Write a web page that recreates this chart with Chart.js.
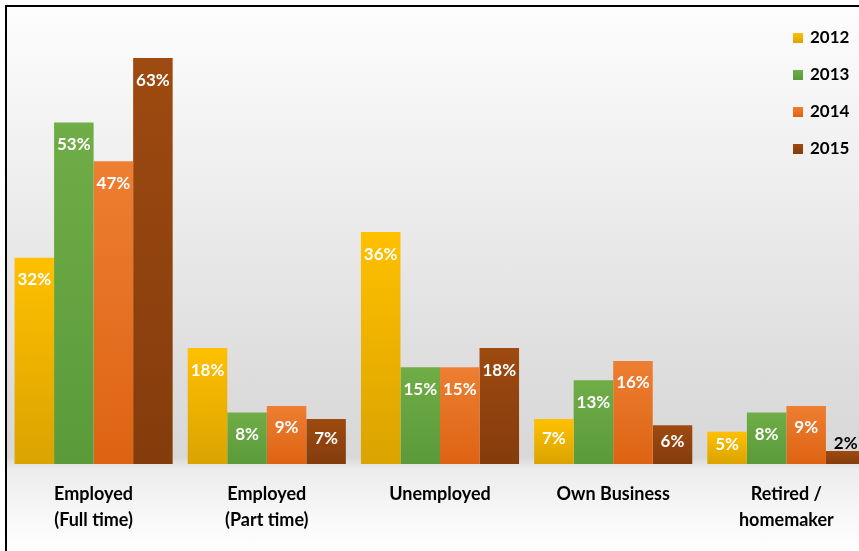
<!DOCTYPE html>
<html>
<head>
<meta charset="utf-8">
<script src="https://cdn.jsdelivr.net/npm/chart.js@4"></script>
<style>
  html, body { margin: 0; padding: 0; overflow: hidden; width: 859px; height: 551px; background: #fff; }
  #box {
    position: absolute; left: 5px; top: 5px;
    width: 866px; height: 544px;
    border-left: 2px solid #000; border-top: 2px solid #000;
    background: linear-gradient(to bottom, #fdfdfd 0px, #f0f0f0 150px, #dcdcdc 380px, #d8d8d8 450px, #ececec 462px, #f8f8f8 510px, #fefefe 544px);
  }
  #legend { position: absolute; left: 786px; top: 18px; font: bold 17px Lato, sans-serif; color: #000; }
  #legend div { height: 37px; line-height: 24px; }
  #legend span { display: inline-block; width: 10px; height: 10px; margin-right: 7px; }
</style>
</head>
<body>
<div id="box">
  <canvas id="chart"></canvas>
  <div id="legend"></div>
</div>
<script>
// categorias do eixo X
const categorias = [
  ["Employed", "(Full time)"],
  ["Employed", "(Part time)"],
  "Unemployed",
  "Own Business",
  ["Retired /", "homemaker"],
];

// anos (series)
const anos = ["2012", "2013", "2014", "2015"];

// valores em %
const valores_2012 = [32, 18, 36, 7, 5];
const valores_2013 = [53, 8, 15, 13, 8];
const valores_2014 = [47, 9, 15, 16, 9];
const valores_2015 = [63, 7, 18, 6, 2];

// cores (topo, base) do degrade de cada serie
const cores = [
  ["#ffc000", "#daa300"],
  ["#70ad47", "#5a9a3a"],
  ["#ee7e32", "#dd6312"],
  ["#9e4a10", "#843c0c"],
];

const valores = [valores_2012, valores_2013, valores_2014, valores_2015];

// degrade vertical por barra
function degrade(i) {
  return function (context) {
    const chart = context.chart;
    const area = chart.chartArea;
    if (!area || context.type !== "data") return cores[i][0];
    const topo = chart.scales.y.getPixelForValue(context.raw);
    const g = chart.ctx.createLinearGradient(0, topo, 0, area.bottom);
    g.addColorStop(0, cores[i][0]);
    g.addColorStop(1, cores[i][1]);
    return g;
  };
}

const datasets = [];
for (let i = 0; i < anos.length; i++) {
  datasets.push({
    label: anos[i],
    data: valores[i],
    backgroundColor: degrade(i),
    borderWidth: 0,
    categoryPercentage: 0.913,
    barPercentage: 1,
  });
}

// rotulos dos valores em cima das barras
const rotulos = {
  id: "rotulos",
  afterDatasetsDraw(chart) {
    const ctx = chart.ctx;
    ctx.save();
    ctx.font = "bold 17px Lato, sans-serif";
    ctx.textAlign = "center";
    ctx.textBaseline = "middle";
    chart.data.datasets.forEach(function (ds, i) {
      const meta = chart.getDatasetMeta(i);
      meta.data.forEach(function (bar, j) {
        const h = bar.base - bar.y;
        const txt = ds.data[j] + "%";
        if (h < 20) {
          ctx.fillStyle = "#000";
          ctx.fillText(txt, bar.x, bar.y - 8);
        } else {
          ctx.fillStyle = "#fff";
          ctx.fillText(txt, bar.x, bar.y + Math.min(22, h / 2 - 3));
        }
      });
    });
    ctx.restore();
  },
};

const config = {
  type: "bar",
  data: { labels: categorias, datasets: datasets },
  options: {
    responsive: true,
    maintainAspectRatio: false,
    animation: false,
    layout: { padding: { top: 6, left: 0, right: 0, bottom: 0 } },
    scales: {
      x: {
        grid: { display: false },
        border: { display: false },
        ticks: {
          color: "#000",
          padding: 9,
          maxRotation: 0,
          autoSkip: false,
          font: { family: "Lato, sans-serif", size: 18, weight: "bold", lineHeight: 1.45 },
        },
        afterFit: function (scale) { scale.height = 87; },
      },
      y: { display: false, min: 0, max: 70 },
    },
    plugins: {
      legend: { display: false },
      tooltip: { enabled: false },
    },
  },
  plugins: [rotulos],
};

const myChart = new Chart(document.getElementById("chart"), config);

// legenda em html
const legenda = document.getElementById("legend");
for (let i = 0; i < anos.length; i++) {
  const linha = document.createElement("div");
  linha.innerHTML = '<span style="background:linear-gradient(' + cores[i][0] + ',' + cores[i][1] + ')"></span>' + anos[i];
  legenda.appendChild(linha);
}
</script>
</body>
</html>
